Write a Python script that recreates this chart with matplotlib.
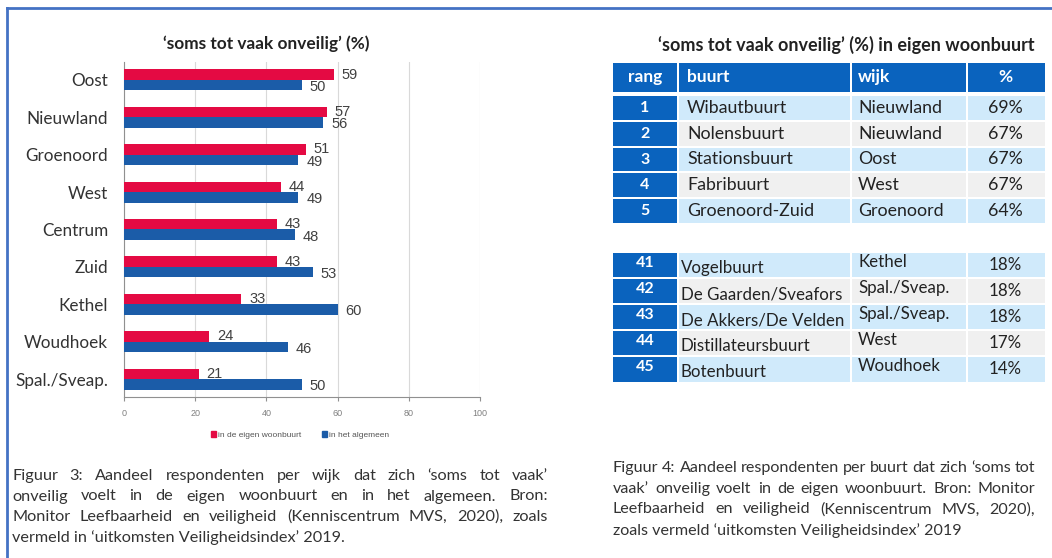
import matplotlib
matplotlib.use('Agg')
import matplotlib.pyplot as plt
from matplotlib.patches import Rectangle
from matplotlib.lines import Line2D
import numpy as np

# ---- data ----
wijken = ['Oost', 'Nieuwland', 'Groenoord', 'West', 'Centrum', 'Zuid',
          'Kethel', 'Woudhoek', 'Spal./Sveap.']
eigen_buurt = [59, 57, 51, 44, 43, 43, 33, 24, 21]
algemeen = [50, 56, 49, 49, 48, 53, 60, 46, 50]
xticks = [0, 20, 40, 60, 80, 100]

top_rang = ['1', '2', '3', '4', '5']
top_buurt = ['Wibautbuurt', 'Nolensbuurt', 'Stationsbuurt', 'Fabribuurt', 'Groenoord-Zuid']
top_wijk = ['Nieuwland', 'Nieuwland', 'Oost', 'West', 'Groenoord']
top_pct = ['69%', '67%', '67%', '67%', '64%']

low_rang = ['41', '42', '43', '44', '45']
low_buurt = ['Vogelbuurt', 'De Gaarden/Sveafors', 'De Akkers/De Velden',
             'Distillateursbuurt', 'Botenbuurt']
low_wijk = ['Kethel', 'Spal./Sveap.', 'Spal./Sveap.', 'West', 'Woudhoek']
low_pct = ['18%', '18%', '18%', '17%', '14%']

caption3 = ["Figuur 3: Aandeel respondenten per wijk dat zich \u2018soms tot vaak\u2019",
            "onveilig voelt in de eigen woonbuurt en in het algemeen. Bron:",
            "Monitor Leefbaarheid en veiligheid (Kenniscentrum MVS, 2020), zoals",
            "vermeld in \u2018uitkomsten Veiligheidsindex\u2019 2019."]
caption4 = ["Figuur 4: Aandeel respondenten per buurt dat zich \u2018soms tot",
            "vaak\u2019 onveilig voelt in de eigen woonbuurt. Bron: Monitor",
            "Leefbaarheid en veiligheid (Kenniscentrum MVS, 2020),",
            "zoals vermeld \u2018uitkomsten Veiligheidsindex\u2019 2019"]

RED = '#E40A43'
BLUE = '#1B5CA8'
DARK = '#0A63BE'
LIGHT = '#D0EAFB'
GREY = '#F0F0F0'
CAL = ['Lato', 'DejaVu Sans']
ARIAL = ['Liberation Sans', 'DejaVu Sans']

fig = plt.figure(figsize=(10.52, 5.58), dpi=100)

# background axes in pixel coordinates
bg = fig.add_axes([0, 0, 1, 1])
bg.set_xlim(0, 1052)
bg.set_ylim(558, 0)
bg.axis('off')

# blue frame
bg.add_line(Line2D([7, 1052], [8, 8], color='#4472C4', lw=2))
bg.add_line(Line2D([7, 7], [8, 558], color='#4472C4', lw=2))

# ---- bar chart ----
ax = fig.add_axes([124 / 1052, 1 - 397 / 558, 356 / 1052, 335 / 558])
y = np.arange(len(wijken))
h = 0.28
ax.barh(y - h / 2, eigen_buurt, height=h, color=RED, zorder=3,
        label='in de eigen woonbuurt')
ax.barh(y + h / 2, algemeen, height=h, color=BLUE, zorder=3,
        label='in het algemeen')
for i in range(len(wijken)):
    ax.text(eigen_buurt[i] + 2.2, y[i] - h / 2, str(eigen_buurt[i]), va='center',
            ha='left', fontsize=10.5, color='#404040', family=ARIAL)
    ax.text(algemeen[i] + 2.2, y[i] + h / 2 + 0.05, str(algemeen[i]), va='center',
            ha='left', fontsize=10.5, color='#404040', family=ARIAL)
ax.set_xlim(0, 100)
ax.set_ylim(len(wijken) - 0.52, -0.48)
ax.set_xticks(xticks)
ax.set_xticklabels([str(t) for t in xticks], fontsize=6.5, color='#808080',
                   family=ARIAL)
ax.set_yticks(y)
ax.set_yticklabels(wijken, fontsize=12.3, color='#333333', family=CAL)
ax.tick_params(axis='y', length=0, pad=11.5)
ax.tick_params(axis='x', length=3, color='#909090', pad=6)
ax.grid(axis='x', color='#D9D9D9', lw=0.8, zorder=0)
for s in ['top', 'right']:
    ax.spines[s].set_visible(False)
ax.spines['left'].set_color('#909090')
ax.spines['bottom'].set_color('#909090')
ax.set_title('\u2018soms tot vaak onveilig\u2019 (%)', fontsize=12.4,
             fontweight='bold', family=CAL, color='#222222', pad=9, x=0.40)
leg = fig.legend(handles=[Rectangle((0, 0), 1, 1, color=RED),
                          Rectangle((0, 0), 1, 1, color=BLUE)],
                 labels=['in de eigen woonbuurt', 'in het algemeen'],
                 loc='center', bbox_to_anchor=(300 / 1052, 1 - 435 / 558),
                 ncol=2, frameon=False, handlelength=0.6, handleheight=0.6,
                 handletextpad=0.2, columnspacing=2.5,
                 prop={'family': ARIAL, 'size': 6})
for t in leg.get_texts():
    t.set_color('#555555')


# ---- tables ----
cols = [(613, 677), (679, 850), (852, 966), (968, 1045)]


def draw_table(rows, top, rh, size, buurt_dy=0, wijk_dy=0, rang_dy=0,
               buurt_x=687):
    rang, buurt, wijk, pct = rows
    for i in range(len(rang)):
        y0 = top + i * rh
        fill = LIGHT if i % 2 == 0 else GREY
        for j, (a, b) in enumerate(cols):
            bg.add_patch(Rectangle((a, y0), b - a, rh - 2,
                                   color=DARK if j == 0 else fill, lw=0))
        yc = y0 + (rh - 2) / 2
        bg.text(645, yc + rang_dy, rang[i], ha='center', va='center',
                color='white', fontsize=11.5, fontweight='bold', family=CAL)
        bg.text(buurt_x, yc + buurt_dy, buurt[i], ha='left', va='center',
                color='#222222', fontsize=size, family=CAL)
        bg.text(858, yc + wijk_dy, wijk[i], ha='left', va='center',
                color='#222222', fontsize=size, family=CAL)
        bg.text(1005, yc, pct[i], ha='center', va='center',
                color='#222222', fontsize=size, family=CAL)


bg.text(1035, 45, '\u2018soms tot vaak onveilig\u2019 (%) in eigen woonbuurt',
        ha='right', va='center', fontsize=13, fontweight='bold', family=CAL,
        color='#222222')
for j, (a, b) in enumerate(cols):
    bg.add_patch(Rectangle((a, 63), b - a, 29, color=DARK, lw=0))
heads = ['rang', 'buurt', 'wijk', '%']
hx = [645, 687, 858, 1005]
has = ['center', 'left', 'left', 'center']
for t, x, ha in zip(heads, hx, has):
    bg.text(x, 77, t, ha=ha, va='center', color='white', fontsize=12.5,
            fontweight='bold', family=CAL)
draw_table((top_rang, top_buurt, top_wijk, top_pct), 96, 25.8, 12.8)
draw_table((low_rang, low_buurt, low_wijk, low_pct), 253, 26.1, 12.2,
           buurt_dy=3, wijk_dy=-3, rang_dy=-2, buurt_x=681)


# ---- captions (justified) ----
def justify(lines, x0, x1, y0, dy, size):
    renderer = fig.canvas.get_renderer()
    for i, line in enumerate(lines):
        yy = y0 + i * dy
        if i == len(lines) - 1:
            bg.text(x0, yy, line, ha='left', va='center', fontsize=size,
                    family=CAL, color='#333333')
            continue
        words = line.split()
        texts = [bg.text(0, yy, w, ha='left', va='center', fontsize=size,
                         family=CAL, color='#333333') for w in words]
        widths = [t.get_window_extent(renderer).width for t in texts]
        gap = (x1 - x0 - sum(widths)) / (len(words) - 1)
        x = x0
        for t, w in zip(texts, widths):
            t.set_x(x)
            x += w + gap


justify(caption3, 12, 548, 476, 20.5, 11.7)
justify(caption4, 613, 1035, 468, 20.7, 11.6)

fig.savefig('out.png', dpi=100)
